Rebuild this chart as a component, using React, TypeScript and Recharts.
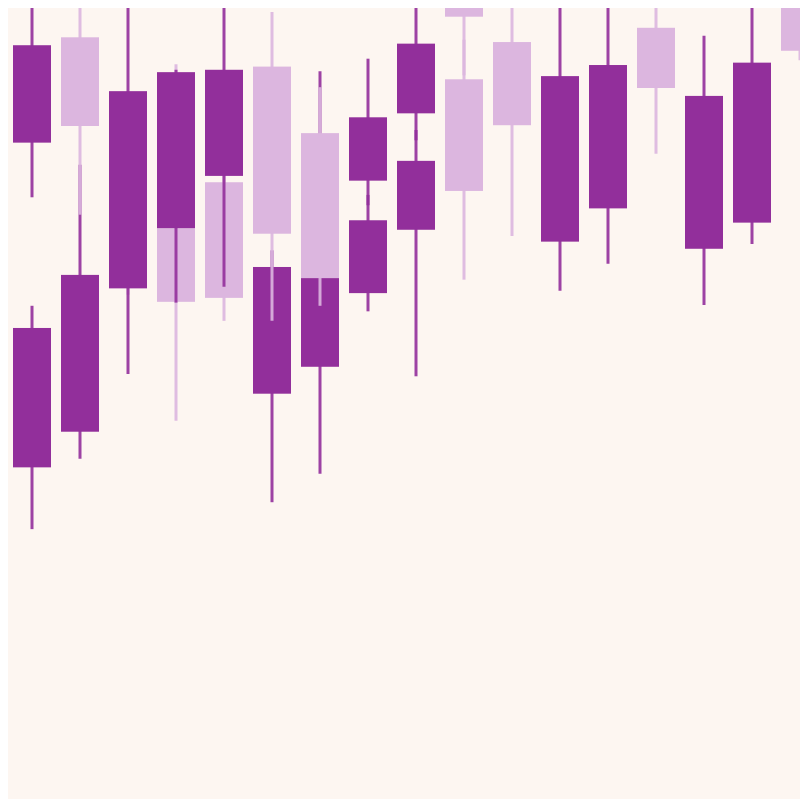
import { ComposedChart, Bar, XAxis, YAxis } from 'recharts'

// two overlapping OHLC series, one per column
const days = [
  'D01', 'D02', 'D03', 'D04', 'D05', 'D06', 'D07', 'D08', 'D09',
  'D10', 'D11', 'D12', 'D13', 'D14', 'D15', 'D16', 'D17',
]

const aOpen  = [83.0, 96.3, 64.6, 72.2, 78.8, 92.6, 84.2, 78.2, 86.7, 103.5, 108.0, 110.4, 105.1, 112.0, 104.3, 108.7, 112.1]
const aClose = [95.3, 85.1, 89.5, 91.9, 92.2, 71.5, 65.9, 86.2, 95.5, 98.9, 112.5, 106.2, 111.3, 107.5, 109.8, 113.9, 108.0]
const aHigh  = [103.5, 106.1, 102.3, 92.2, 104.8, 99.5, 90.0, 93.6, 102.9, 108.6, 115.2, 113.8, 114.0, 116.1, 112.6, 117.0, 115.5]
const aLow   = [76.1, 73.9, 53.8, 62.8, 64.8, 60.5, 62.4, 75.1, 83.3, 91.5, 103.0, 102.5, 101.8, 104.4, 101.5, 105.2, 105.9]

const bOpen  = [42.0, 46.5, 84.6, 72.2, 78.0, 51.3, 54.7, 64.0, 72.0, 91.0, 95.7, 70.5, 74.7, 97.5, 69.6, 72.9, 102.3]
const bClose = [59.6, 66.3, 66.9, 62.9, 63.4, 67.3, 65.9, 73.2, 80.7, 76.9, 85.2, 91.4, 92.8, 89.9, 88.9, 93.1, 94.6]
const bHigh  = [62.4, 80.2, 87.1, 92.9, 80.8, 69.4, 92.0, 76.4, 84.6, 96.0, 104.2, 103.5, 102.3, 101.6, 96.5, 103.5, 104.8]
const bLow   = [34.2, 43.1, 63.8, 47.9, 60.5, 37.6, 41.2, 61.7, 53.5, 65.7, 71.2, 64.3, 67.7, 81.6, 62.5, 70.2, 93.4]

const UP   = '#922f9b'
const DOWN = '#dcb6df'
const BG   = '#fdf6f1'

const BAR = 38

interface Ohlc { open: number; close: number; high: number; low: number }

interface Row {
  day: string
  a: Ohlc
  b: Ohlc
  aRange: [number, number]
  bRange: [number, number]
}

const rows: Row[] = days.map((day, i) => ({
  day,
  a: { open: aOpen[i], close: aClose[i], high: aHigh[i], low: aLow[i] },
  b: { open: bOpen[i], close: bClose[i], high: bHigh[i], low: bLow[i] },
  aRange: [aLow[i], aHigh[i]],
  bRange: [bLow[i], bHigh[i]],
}))

// eslint-disable-next-line @typescript-eslint/no-explicit-any
const Candle = (props: any) => {
  const { x, y, width, height, payload, series } = props
  const c: Ohlc = payload[series]
  // bar spans low..high, so map open/close linearly inside it
  const toY = (v: number) => y + ((c.high - v) / (c.high - c.low)) * height
  const top = toY(Math.max(c.open, c.close))
  const bottom = toY(Math.min(c.open, c.close))
  const color = c.close >= c.open ? UP : DOWN
  const cx = x + width / 2
  return (
    <g>
      <line x1={cx} x2={cx} y1={y} y2={y + height} stroke={color} strokeWidth={3} strokeOpacity={0.9} />
      <rect x={x} y={top} width={width} height={Math.max(bottom - top, 1)} fill={color} />
    </g>
  )
}

export default function App() {
  return (
    <div
      style={{
        position: 'absolute', left: 8, top: 8,
        width: 792, height: 791,
        overflow: 'hidden', background: BG,
      }}
    >
      <ComposedChart
        width={816}
        height={792}
        data={rows}
        margin={{ top: 0, right: 0, bottom: 0, left: 0 }}
        barGap={-BAR}
      >
        <XAxis dataKey="day" hide />
        <YAxis hide domain={[0, 100]} allowDataOverflow />
        <Bar
          dataKey="bRange"
          barSize={BAR}
          isAnimationActive={false}
          shape={(p: object) => <Candle {...p} series="b" />}
        />
        <Bar
          dataKey="aRange"
          barSize={BAR}
          isAnimationActive={false}
          shape={(p: object) => <Candle {...p} series="a" />}
        />
      </ComposedChart>
    </div>
  )
}
